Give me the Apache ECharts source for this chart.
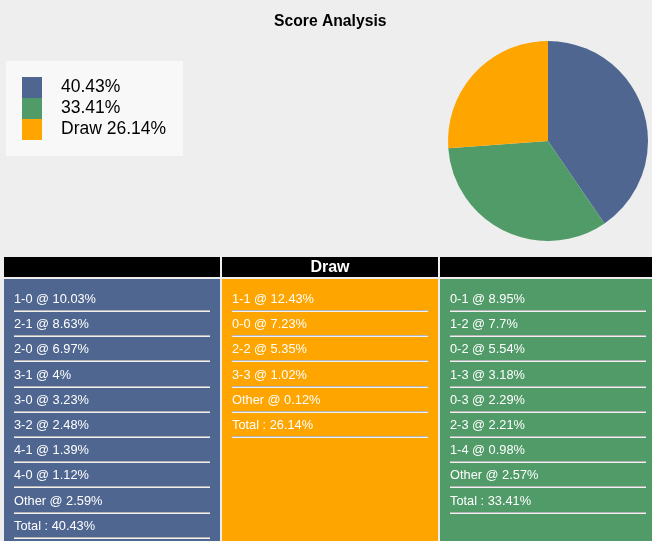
<!DOCTYPE html>
<html>
<head>
<meta charset="utf-8">
<style>
  html, body { margin: 0; padding: 0; background: #eeeeee; }
  #main { width: 652px; height: 541px; }
</style>
<script src="https://cdn.jsdelivr.net/npm/echarts@6/dist/echarts.min.js"></script>
</head>
<body>
<div id="main"></div>
<script>
const pieNames = ["40.43%", "33.41%", "Draw 26.14%"];
const pieValues = [40.43, 33.41, 26.14];
const homeRows = ["1-0 @ 10.03%", "2-1 @ 8.63%", "2-0 @ 6.97%", "3-1 @ 4%", "3-0 @ 3.23%", "3-2 @ 2.48%", "4-1 @ 1.39%", "4-0 @ 1.12%", "Other @ 2.59%", "Total : 40.43%"];
const drawRows = ["1-1 @ 12.43%", "0-0 @ 7.23%", "2-2 @ 5.35%", "3-3 @ 1.02%", "Other @ 0.12%", "Total : 26.14%"];
const awayRows = ["0-1 @ 8.95%", "1-2 @ 7.7%", "0-2 @ 5.54%", "1-3 @ 3.18%", "0-3 @ 2.29%", "2-3 @ 2.21%", "1-4 @ 0.98%", "Other @ 2.57%", "Total : 33.41%"];
const headers = ["", "Draw", ""];

const blue = "#4f6690", green = "#509b68", orange = "#ffa500";
const font = '"Liberation Sans", Arial, sans-serif';

// one column of the table under the pie
function column(x, w, color, header, rows) {
  let els = [
    { type: "rect", shape: { x: x, y: 257, width: w, height: 20 }, style: { fill: "#000" } },
    { type: "rect", shape: { x: x, y: 279, width: w, height: 262 }, style: { fill: color } },
    { type: "text", x: x + w / 2, y: 268, style: { text: header, fill: "#fff", font: "bold 16px " + font, textAlign: "center", textVerticalAlign: "middle" } },
  ];
  rows.forEach((row, i) => {
    let y = Math.round(299 + 25.2 * i);
    let lineY = Math.round(311 + 25.2 * i);
    els.push({ type: "text", x: x + 10, y: y, style: { text: row, fill: "#fff", font: "12.8px " + font, textAlign: "left", textVerticalAlign: "middle" } });
    els.push({ type: "rect", shape: { x: x + 10, y: lineY - 1, width: 196, height: 1 }, style: { fill: "#b4b4b4" } });
    els.push({ type: "rect", shape: { x: x + 10, y: lineY, width: 196, height: 1 }, style: { fill: "#f0f0f0" } });
  });
  return els;
}

const chart = echarts.init(document.getElementById("main"));
chart.setOption({
  animation: false,
  backgroundColor: "#eeeeee",
  title: {
    text: "Score Analysis",
    left: 274,
    top: 14,
    padding: 0,
    textStyle: { fontFamily: font, fontSize: 15.7, fontWeight: "bold", color: "#000" },
  },
  legend: {
    left: 6,
    top: 61,
    padding: [16, 17, 16, 16],
    backgroundColor: "#f8f8f8",
    orient: "vertical",
    itemWidth: 20,
    itemHeight: 21,
    itemGap: 0,
    icon: "rect",
    selectedMode: false,
    textStyle: { fontFamily: font, fontSize: 17.5, color: "#000", padding: [0, 0, 0, 14] },
    data: pieNames,
  },
  color: [blue, green, orange],
  series: [
    {
      type: "pie",
      center: [548, 141],
      radius: [0, 100],
      startAngle: 90,
      clockwise: true,
      label: { show: false },
      labelLine: { show: false },
      silent: true,
      data: pieNames.map((n, i) => ({ name: n, value: pieValues[i] })),
    },
  ],
  graphic: [].concat(
    column(4, 216, blue, headers[0], homeRows),
    column(222, 216, orange, headers[1], drawRows),
    column(440, 212, green, headers[2], awayRows)
  ),
});
</script>
</body>
</html>
